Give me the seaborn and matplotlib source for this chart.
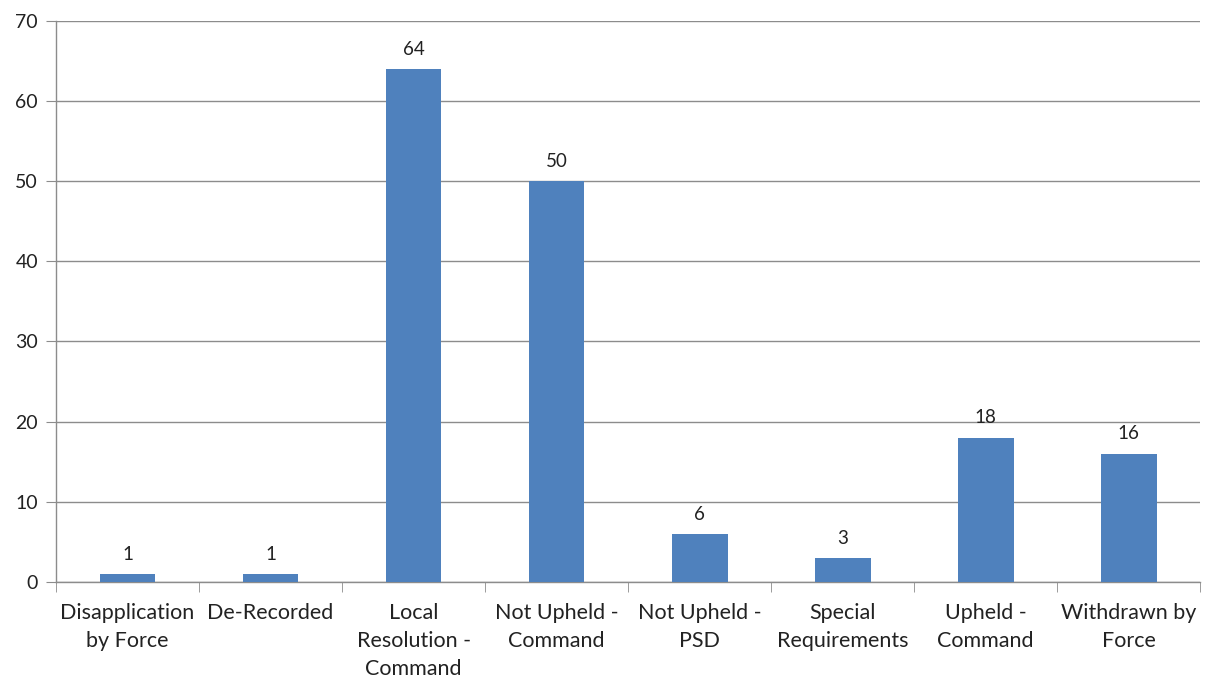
import matplotlib
matplotlib.use("Agg")
import matplotlib.pyplot as plt
import seaborn as sns
import pandas as pd

# Chart data
categories = ["Disapplication\nby Force", "De-Recorded", "Local\nResolution -\nCommand",
              "Not Upheld -\nCommand", "Not Upheld -\nPSD", "Special\nRequirements",
              "Upheld -\nCommand", "Withdrawn by\nForce"]
counts = [1, 1, 64, 50, 6, 3, 18, 16]
y_ticks = [0, 10, 20, 30, 40, 50, 60, 70]

df = pd.DataFrame({"category": categories, "count": counts})

sns.set_style("white")
plt.rcParams["font.family"] = ["Lato", "DejaVu Sans"]

fig = plt.figure(figsize=(12.05, 6.81), dpi=100)
ax = fig.add_axes([0.0465, 0.1455, 0.9495, 0.824])

sns.barplot(data=df, x="category", y="count", color="#4F81BD", width=0.39,
            saturation=1, linewidth=0, ax=ax, zorder=3)

for i, v in enumerate(counts):
    ax.text(i, v + 1.4, str(v), ha="center", va="bottom", fontsize=13.5, color="#222222")

ax.set_ylim(0, 70)
ax.set_xlim(-0.5, len(categories) - 0.5)
ax.set_yticks(y_ticks)
ax.yaxis.grid(True, color="#8c8c8c", linewidth=1, zorder=0)
ax.set_xlabel("")
ax.set_ylabel("")

for s in ["top", "right"]:
    ax.spines[s].set_visible(False)
for s in ["left", "bottom"]:
    ax.spines[s].set_color("#8c8c8c")
    ax.spines[s].set_linewidth(1)

# Excel-style ticks between categories
ax.set_xticks([i - 0.5 for i in range(len(categories) + 1)], minor=True)
ax.tick_params(axis="x", which="minor", length=7, color="#8c8c8c", bottom=True)
ax.tick_params(axis="x", which="major", length=0, labelsize=15.5, labelcolor="#222222", pad=15)
ax.tick_params(axis="y", length=7, color="#8c8c8c", left=True, labelsize=14,
               labelcolor="#222222", pad=6)
for lbl in ax.get_xticklabels():
    lbl.set_linespacing(1.5)

fig.savefig("out.png", dpi=100)
